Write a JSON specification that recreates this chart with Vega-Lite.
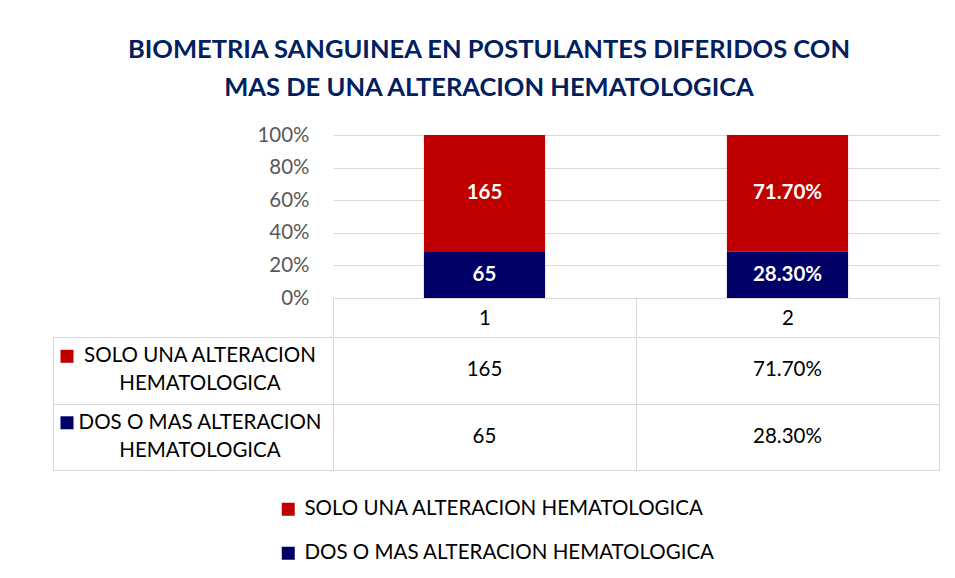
{
  "$schema": "https://vega.github.io/schema/vega-lite/v6.json",
  "background": "white",
  "padding": {"left": 52, "top": 37, "right": 10, "bottom": 5},
  "title": {
    "text": ["BIOMETRIA SANGUINEA EN POSTULANTES DIFERIDOS CON", "MAS DE UNA ALTERACION HEMATOLOGICA"],
    "font": "Lato", "fontSize": 25.5, "fontWeight": "bold", "color": "#002060",
    "anchor": "middle", "lineHeight": 38, "offset": 24, "dx": -7
  },
  "datasets": {
    "bars": [
      {"cat": "1", "series": "SOLO UNA ALTERACION HEMATOLOGICA", "value": 165, "label": "165"},
      {"cat": "1", "series": "DOS O MAS ALTERACION HEMATOLOGICA", "value": 65, "label": "65"},
      {"cat": "2", "series": "SOLO UNA ALTERACION HEMATOLOGICA", "value": 71.7, "label": "71.70%"},
      {"cat": "2", "series": "DOS O MAS ALTERACION HEMATOLOGICA", "value": 28.3, "label": "28.30%"}
    ],
    "rows": [
      {"series": "SOLO UNA ALTERACION HEMATOLOGICA", "rowlabel": "SOLO UNA ALTERACION\nHEMATOLOGICA"},
      {"series": "DOS O MAS ALTERACION HEMATOLOGICA", "rowlabel": "DOS O MAS ALTERACION\nHEMATOLOGICA"}
    ]
  },
  "spacing": 0,
  "vconcat": [
    {
      "spacing": 0,
      "bounds": "flush",
      "hconcat": [
        {
          "width": 280,
          "height": 163,
          "data": {"values": [{}]},
          "view": {"stroke": null},
          "mark": {"type": "text", "text": ""},
          "encoding": {}
        },
        {
          "width": 606,
          "height": 163,
          "data": {"name": "bars"},
          "view": {"stroke": null},
          "encoding": {
            "x": {
              "field": "cat", "type": "nominal",
              "scale": {"type": "band", "paddingInner": 0, "paddingOuter": 0},
              "axis": {
                "title": null, "labelAngle": 0, "tickBand": "extent", "tickSize": 37,
                "tickColor": "#d9d9d9", "domainColor": "#d9d9d9", "labelFontSize": 20.5,
                "labelFont": "Lato", "labelColor": "#000000", "labelBaseline": "middle",
                "labelPadding": -17, "grid": false
              }
            },
            "y": {
              "field": "value", "type": "quantitative", "stack": "normalize",
              "axis": {
                "title": null, "values": [0, 0.2, 0.4, 0.6, 0.8, 1], "format": ".0%",
                "domain": false, "ticks": false, "labelPadding": 24, "labelFontSize": 20.5,
                "labelFont": "Lato", "labelColor": "#595959", "gridColor": "#d9d9d9",
                "labelOverlap": false, "labelBound": false, "labelFlush": false
              }
            },
            "order": {"field": "series", "sort": "ascending"}
          },
          "layer": [
            {
              "mark": {"type": "bar", "width": {"band": 0.4}},
              "encoding": {
                "color": {
                  "field": "series", "type": "nominal",
                  "scale": {"domain": ["SOLO UNA ALTERACION HEMATOLOGICA", "DOS O MAS ALTERACION HEMATOLOGICA"], "range": ["#C00000", "#000066"]},
                  "legend": {"title": null}
                }
              }
            },
            {
              "mark": {"type": "text", "font": "Lato", "fontSize": 20.5, "fontWeight": "bold", "color": "white"},
              "encoding": {
                "y": {
                  "field": "value", "type": "quantitative", "stack": "normalize", "bandPosition": 0.5,
                  "axis": {
                    "title": null, "values": [0, 0.2, 0.4, 0.6, 0.8, 1], "format": ".0%",
                    "domain": false, "ticks": false, "labelPadding": 24, "labelFontSize": 20.5,
                    "labelFont": "Lato", "labelColor": "#595959", "gridColor": "#d9d9d9",
                    "labelOverlap": false, "labelBound": false, "labelFlush": false
                  }
                },
                "detail": {"field": "series"},
                "text": {"field": "label"}
              }
            }
          ]
        }
      ]
    },
    {
      "spacing": 0,
      "bounds": "flush",
      "hconcat": [
        {
          "width": 280,
          "height": 133,
          "data": {"name": "rows"},
          "view": {"stroke": "#d9d9d9"},
          "encoding": {
            "y": {
              "field": "series", "type": "nominal",
              "scale": {"type": "band", "domain": ["SOLO UNA ALTERACION HEMATOLOGICA", "DOS O MAS ALTERACION HEMATOLOGICA"], "paddingInner": 0, "paddingOuter": 0},
              "axis": {"grid": true, "tickBand": "extent", "labels": false, "ticks": false, "domain": false, "title": null, "gridColor": "#d9d9d9"}
            }
          },
          "layer": [
            {
              "mark": {"type": "square", "size": 169, "opacity": 1, "filled": true},
              "encoding": {
                "x": {"datum": 0.05, "type": "quantitative", "scale": {"domain": [0, 1]}, "axis": null},
                "y": {"field": "series", "type": "nominal", "bandPosition": 0.29},
                "color": {
                  "field": "series", "type": "nominal",
                  "scale": {"domain": ["SOLO UNA ALTERACION HEMATOLOGICA", "DOS O MAS ALTERACION HEMATOLOGICA"], "range": ["#C00000", "#000066"]},
                  "legend": {"title": null}
                }
              }
            },
            {
              "mark": {"type": "text", "lineBreak": "\n", "font": "Lato", "fontSize": 20.5, "lineHeight": 28, "color": "#000000"},
              "encoding": {
                "x": {"datum": 0.525, "type": "quantitative"},
                "y": {"field": "series", "type": "nominal", "bandPosition": 0.29},
                "text": {"field": "rowlabel"}
              }
            }
          ]
        },
        {
          "width": 606,
          "height": 133,
          "data": {"name": "bars"},
          "view": {"stroke": "#d9d9d9"},
          "mark": {"type": "text", "font": "Lato", "fontSize": 20.5, "color": "#000000"},
          "encoding": {
            "x": {
              "field": "cat", "type": "nominal",
              "scale": {"type": "band", "paddingInner": 0, "paddingOuter": 0},
              "axis": {"grid": true, "tickBand": "extent", "labels": false, "ticks": false, "domain": false, "title": null, "gridColor": "#d9d9d9"}
            },
            "y": {
              "field": "series", "type": "nominal",
              "scale": {"type": "band", "domain": ["SOLO UNA ALTERACION HEMATOLOGICA", "DOS O MAS ALTERACION HEMATOLOGICA"], "paddingInner": 0, "paddingOuter": 0},
              "axis": {"grid": true, "tickBand": "extent", "labels": false, "ticks": false, "domain": false, "title": null, "gridColor": "#d9d9d9"}
            },
            "text": {"field": "label"}
          }
        }
      ]
    }
  ],
  "config": {
    "axisY": {"labelOverlap": false},
    "legend": {
      "orient": "bottom", "direction": "vertical", "symbolType": "square", "symbolSize": 169,
      "symbolStrokeWidth": 0, "labelFont": "Lato", "labelFontSize": 20.5, "labelColor": "#000000",
      "labelLimit": 600, "rowPadding": 23, "offset": 28, "labelOffset": 6,
      "layout": {"bottom": {"anchor": "middle"}}
    }
  }
}
